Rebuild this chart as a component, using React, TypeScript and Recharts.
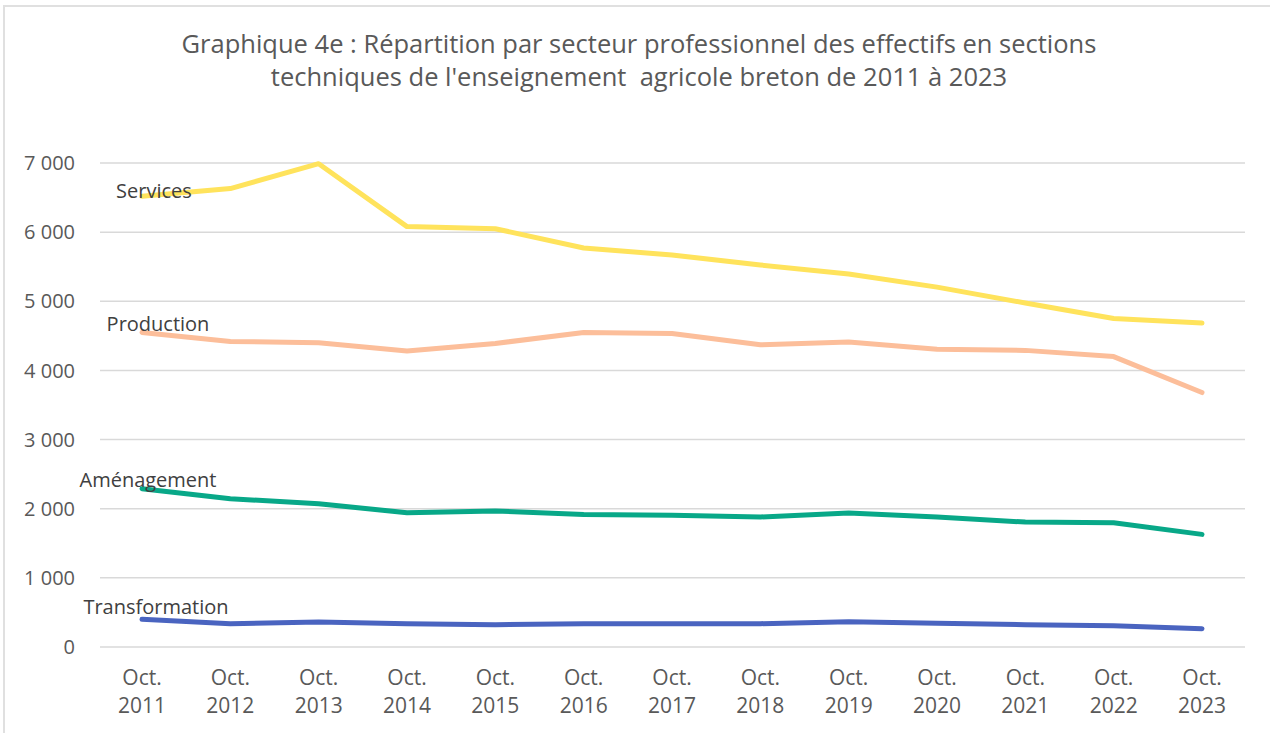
import React from 'react';
import { LineChart, Line, XAxis, YAxis, CartesianGrid, LabelList } from 'recharts';

const categories = [
  'Oct. 2011', 'Oct. 2012', 'Oct. 2013', 'Oct. 2014', 'Oct. 2015', 'Oct. 2016', 'Oct. 2017',
  'Oct. 2018', 'Oct. 2019', 'Oct. 2020', 'Oct. 2021', 'Oct. 2022', 'Oct. 2023',
];

const services = [6520, 6630, 6990, 6080, 6050, 5770, 5670, 5525, 5395, 5205, 4975, 4750, 4685];
const production = [4550, 4420, 4400, 4280, 4390, 4550, 4535, 4370, 4410, 4305, 4290, 4200, 3680];
const amenagement = [2290, 2145, 2072, 1942, 1966, 1918, 1904, 1880, 1937, 1880, 1807, 1798, 1629];
const transformation = [400, 337, 361, 337, 323, 337, 337, 337, 366, 342, 323, 308, 265];

const yTicks = [0, 1000, 2000, 3000, 4000, 5000, 6000, 7000];

const FONT = '"Open Sans", sans-serif';

const data = categories.map((cat, i) => ({
  cat,
  services: services[i],
  production: production[i],
  amenagement: amenagement[i],
  transformation: transformation[i],
}));

// series look + where the name label sits next to the first point
const seriesList = [
  { key: 'services', name: 'Services', color: '#FFE35C', dx: 12, dy: -6 },
  { key: 'production', name: 'Production', color: '#FCBE9A', dx: 16, dy: -9 },
  { key: 'amenagement', name: 'Aménagement', color: '#08A888', dx: 6, dy: -9 },
  { key: 'transformation', name: 'Transformation', color: '#4A64C0', dx: 14, dy: -13 },
];

const fmt = (v: number) => (v >= 1000 ? `${Math.floor(v / 1000)} ${String(v % 1000).padStart(3, '0')}` : String(v));

const XTick = (props: any) => {
  const { x, y, payload } = props;
  const [a, b] = String(payload.value).split(' ');
  return (
    <text x={x} y={y} textAnchor="middle" fill="#595959" fontSize={21} fontFamily={FONT}>
      <tspan x={x} dy={30}>{a}</tspan>
      <tspan x={x} dy={28}>{b}</tspan>
    </text>
  );
};

const nameLabel = (name: string, dx: number, dy: number) => (props: any) => {
  if (props.index !== 0) return null;
  return (
    <text
      x={Number(props.x) + dx}
      y={Number(props.y) + dy}
      textAnchor="middle"
      dominantBaseline="central"
      fill="#404040"
      fontSize={20}
      fontFamily={FONT}
    >
      {name}
    </text>
  );
};

export default function App() {
  return (
    <div style={{ position: 'absolute', left: 0, top: 0, width: 1270, height: 733, background: '#fff' }}>
      <div
        style={{
          position: 'absolute',
          left: 3,
          top: 5,
          width: 1267,
          height: 728,
          borderLeft: '2px solid #e0e0e0',
          borderTop: '2px solid #e0e0e0',
        }}
      />
      <div
        style={{
          position: 'absolute',
          left: 0,
          top: 27,
          width: 1278,
          textAlign: 'center',
          fontFamily: FONT,
          fontSize: 25.5,
          lineHeight: '33px',
          color: '#595959',
        }}
      >
        Graphique 4e : Répartition par secteur professionnel des effectifs en sections
        <br />
        techniques de l'enseignement&nbsp; agricole breton de 2011 à 2023
      </div>
      <div style={{ position: 'absolute', left: 0, top: 0 }}>
        <LineChart width={1270} height={733} data={data} margin={{ top: 163, right: 25, bottom: 0, left: 0 }}>
          <CartesianGrid vertical={false} stroke="#d9d9d9" strokeWidth={1.5} />
          <XAxis
            dataKey="cat"
            axisLine={false}
            tickLine={false}
            interval={0}
            padding={{ left: 42, right: 43 }}
            tick={<XTick />}
            height={86}
          />
          <YAxis
            domain={[0, 7000]}
            ticks={yTicks}
            axisLine={false}
            tickLine={false}
            tickSize={0}
            tickMargin={25}
            width={100}
            tickFormatter={fmt}
            tick={{ fill: '#595959', fontSize: 20, fontFamily: FONT }}
          />
          {seriesList.map((s) => (
            <Line
              key={s.key}
              type="linear"
              dataKey={s.key}
              name={s.name}
              stroke={s.color}
              strokeWidth={5}
              strokeLinecap="round"
              strokeLinejoin="round"
              dot={false}
              isAnimationActive={false}
            >
              <LabelList dataKey={s.key} content={nameLabel(s.name, s.dx, s.dy)} />
            </Line>
          ))}
        </LineChart>
      </div>
    </div>
  );
}
